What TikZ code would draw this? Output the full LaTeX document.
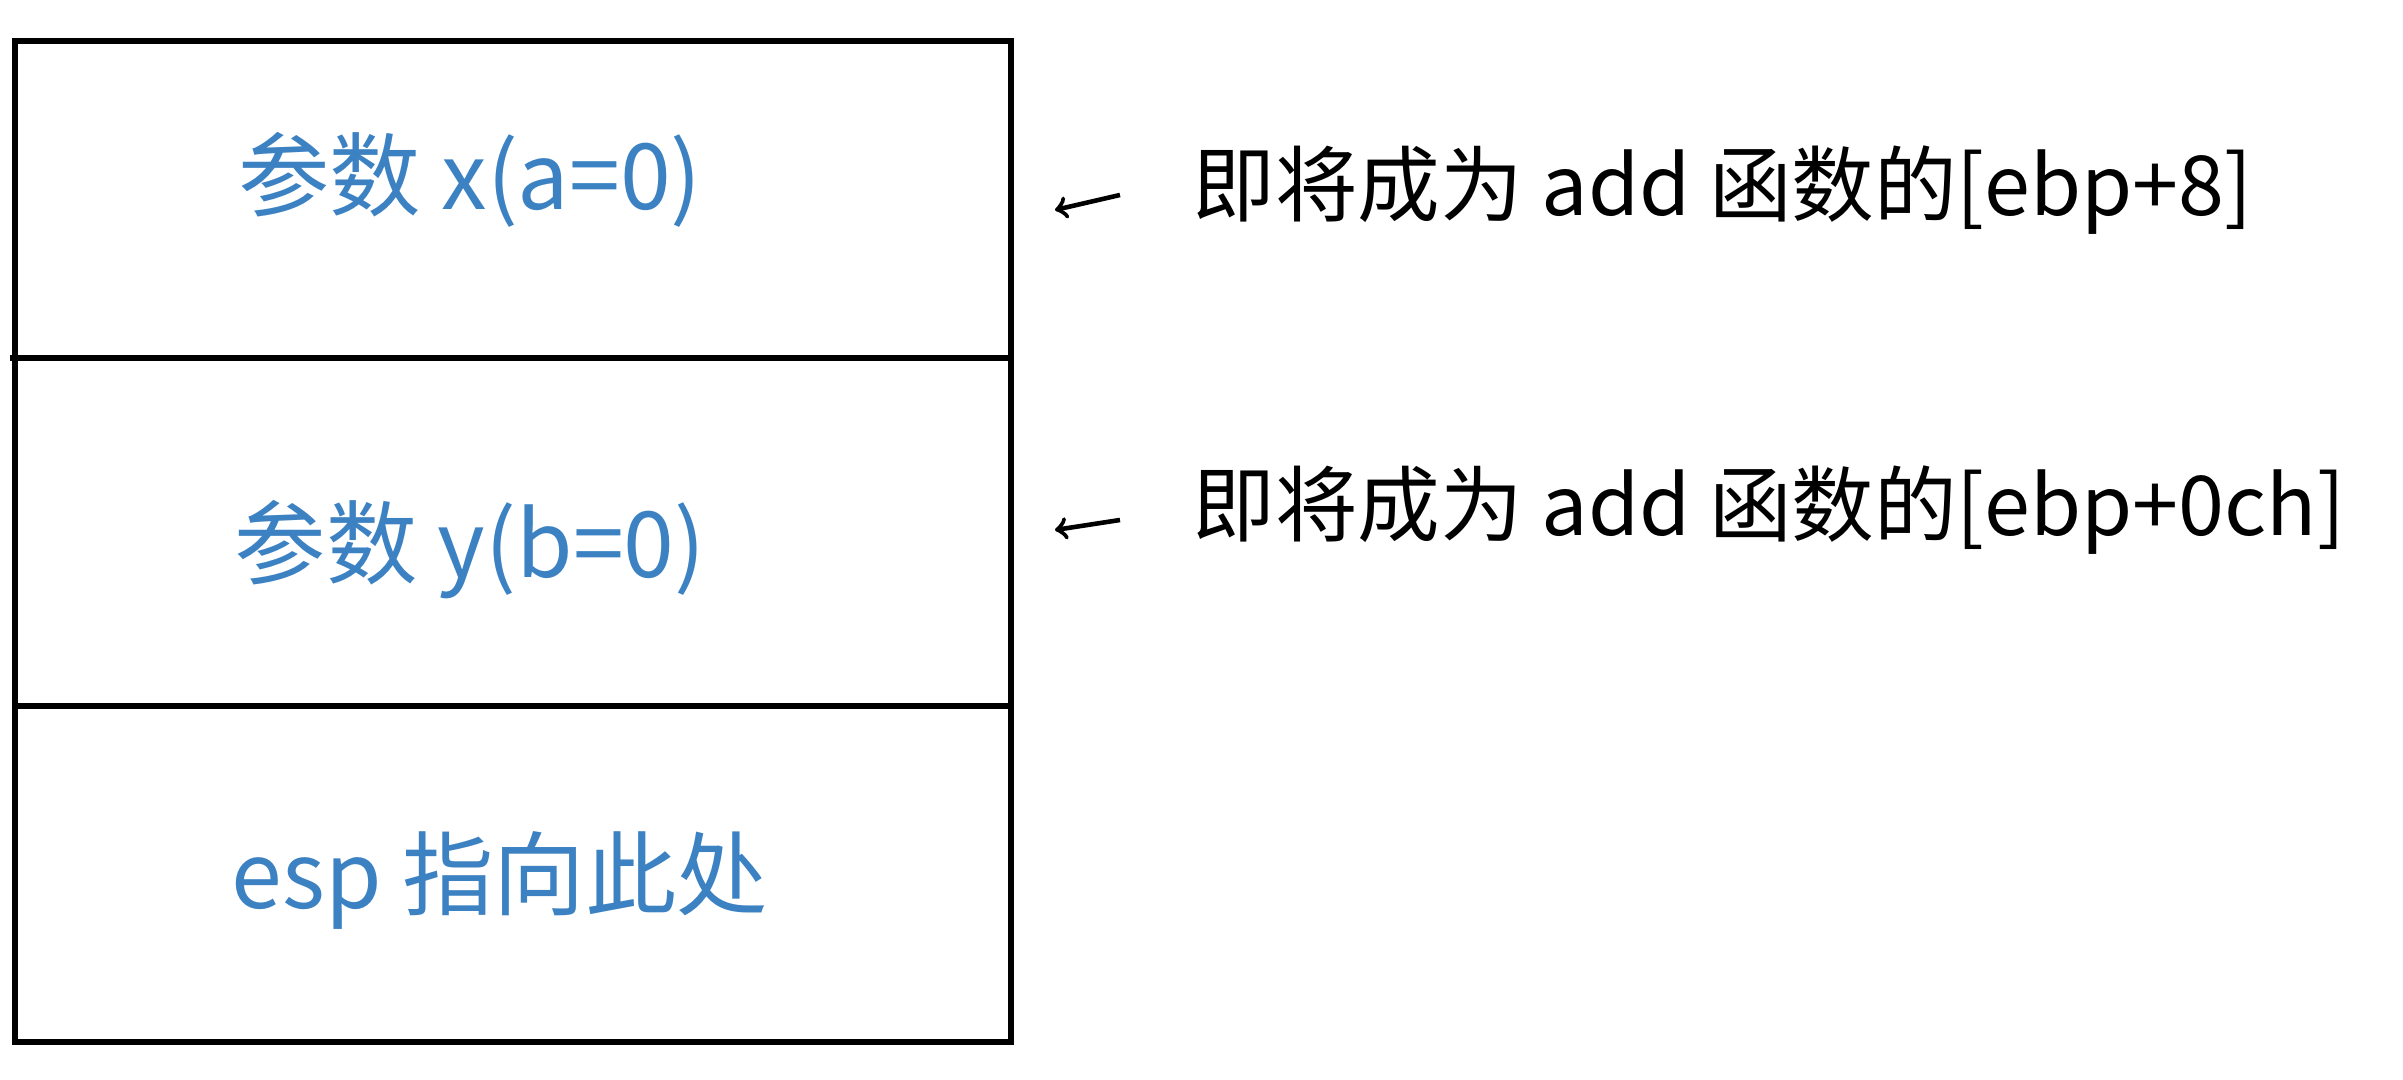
\documentclass[tikz,border=0pt]{standalone}
\usepackage{fontspec}
\newfontfamily\cjk{Noto Sans CJK SC}
\definecolor{pen}{RGB}{60,130,195}
\begin{document}
\begin{tikzpicture}[x=0.01cm,y=-0.01cm,
  cell/.style={font=\cjk\fontsize{26}{30}\selectfont,text=pen},
  note/.style={font=\cjk\fontsize{23.5}{28}\selectfont,text=black,anchor=west},
  line/.style={line width=1.6pt}]
\useasboundingbox (0,0) rectangle (2403,1080);
\draw[line] (15,41) rectangle (1011,1042);
\draw[line] (10,358) -- (1011,358);
\draw[line] (15,706) -- (1011,706);
\node[cell] (x) at (470,180) {参数 x(a=0)};
\node[cell] (y) at (470,550) {参数 y(b=0)};
\node[cell] (e) at (500,880) {esp 指向此处};
\coordinate (a1s) at (1120,195); \coordinate (a1e) at (1055,210);
\coordinate (a2s) at (1120,520); \coordinate (a2e) at (1055,530);
\draw[line width=1.3pt,->] (a1s) -- (a1e);
\draw[line width=1.3pt,->] (a2s) -- (a2e);
\node[note] (n1) at (1180,190) {即将成为 add 函数的[ebp+8]};
\node[note] (n2) at (1180,510) {即将成为 add 函数的[ebp+0ch]};
\end{tikzpicture}
\end{document}
